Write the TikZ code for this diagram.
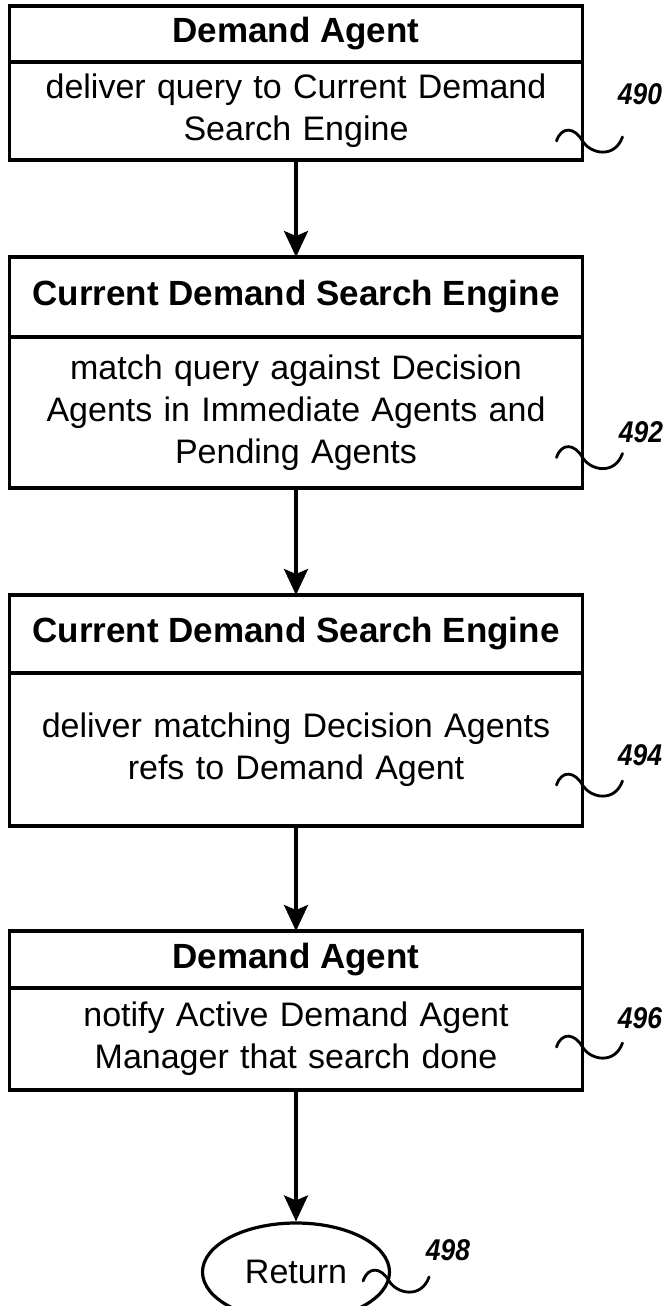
\documentclass[tikz,border=0pt]{standalone}
\usepackage{fontspec}
\setmainfont{Liberation Sans}
\newfontfamily\numfont[FakeStretch=0.88]{Liberation Sans}
\usetikzlibrary{shapes.geometric, arrows.meta, positioning, calc}

\begin{document}
\begin{tikzpicture}[
        x=0.5pt, y=-0.5pt,
        head/.style={rectangle, draw, line width=1.6pt, outer sep=0pt, minimum width=286.5pt, font=\fontsize{17.5}{21}\selectfont\bfseries},
        body/.style={rectangle, draw, line width=1.6pt, outer sep=0pt, minimum width=286.5pt, text width=270pt, align=center, font=\fontsize{17}{21}\selectfont},
        arrow/.style={line width=1.6pt, -{Stealth[length=13pt, width=12pt, inset=2.5pt]}},
        refnum/.style={font=\numfont\fontsize{15}{17}\selectfont\bfseries\itshape},
        lead/.pic={\draw[line width=1.4pt, line cap=round] (-26,0) .. controls (-21,-15) and (-8,-14) .. (0,0) .. controls (8,13) and (32,18) .. (40,-4);}
        ]
        \useasboundingbox (0,0) rectangle (668,1306);

        \node[head, minimum height=28pt] (t1) at (296,34) {Demand Agent};
        \node[body, minimum height=49pt, below=0pt of t1] (b1) {deliver query to Current Demand\\Search Engine};
        \node[head, minimum height=40pt] (t2) at (296,297) {Current Demand Search Engine};
        \node[body, minimum height=75.5pt, below=0pt of t2] (b2) {match query against Decision\\Agents in Immediate Agents and\\Pending Agents};
        \node[head, minimum height=39pt] (t3) at (296,634) {Current Demand Search Engine};
        \node[body, minimum height=76.5pt, below=0pt of t3] (b3) {deliver matching Decision Agents\\refs to Demand Agent};
        \node[head, minimum height=28.5pt] (t4) at (296,959.5) {Demand Agent};
        \node[body, minimum height=51pt, below=0pt of t4] (b4) {notify Active Demand Agent\\Manager that search done};
        \node[ellipse, draw, line width=1.6pt, minimum width=93.5pt, minimum height=49pt, font=\fontsize{17}{21}\selectfont] (ret) at (296,1272) {Return};

        \draw[arrow] (b1) -- (t2);
        \draw[arrow] (b2) -- (t3);
        \draw[arrow] (b3) -- (t4);
        \draw[arrow] (b4) -- (ret);

        % reference numerals
        \node[refnum] (r490) at (640,94) {490};
        \node[refnum] (r492) at (641,432) {492};
        \node[refnum] (r494) at (640,755) {494};
        \node[refnum] (r496) at (640,1018) {496};
        \node[refnum] (r498) at (448,1250) {498};
        \pic at ($(b1.east)+(0,30)$) {lead};
        \pic at ($(b2.east)+(0,45)$) {lead};
        \pic at ($(b3.east)+(0,35.5)$) {lead};
        \pic at ($(b4.east)+(0,8)$) {lead};
        \pic at ($(ret.east)+(-2,9)$) {lead};
\end{tikzpicture}
\end{document}
